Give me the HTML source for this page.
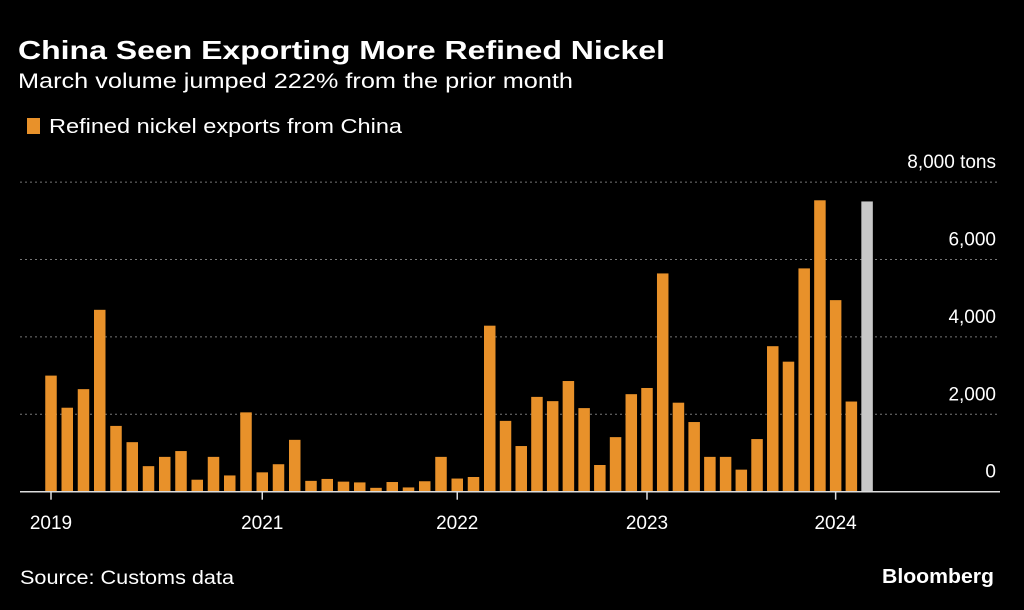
<!DOCTYPE html>
<html><head><meta charset="utf-8"><style>
html,body{margin:0;padding:0;background:#000;width:1024px;height:610px;overflow:hidden}
svg{display:block;font-family:"Liberation Sans",sans-serif}
</style></head><body>
<svg id="chart" width="1024" height="610" viewBox="0 0 1024 610">
<text x="18" y="59" fill="#fff" font-size="26" font-weight="bold" textLength="647" lengthAdjust="spacingAndGlyphs">China Seen Exporting More Refined Nickel</text>
<text x="18" y="88" fill="#fff" font-size="21" textLength="555" lengthAdjust="spacingAndGlyphs">March volume jumped 222% from the prior month</text>
<rect x="27" y="118" width="13" height="16" fill="#e8912a"/>
<text x="49" y="133" fill="#fff" font-size="20" textLength="353" lengthAdjust="spacingAndGlyphs">Refined nickel exports from China</text>
<g id="grid"></g>
<g id="bars"></g>
<g id="xaxis"></g>
<text x="20" y="584" fill="#fff" font-size="19" textLength="214" lengthAdjust="spacingAndGlyphs">Source: Customs data</text>
<text x="994" y="583" fill="#fff" font-size="20" font-weight="bold" text-anchor="end" textLength="112" lengthAdjust="spacingAndGlyphs">Bloomberg</text>
</svg>
<script>
const values = [3000,2170,2650,4700,1700,1280,660,900,1050,310,900,420,2050,500,710,1340,280,330,260,240,100,250,110,270,900,340,380,4290,1830,1180,2450,2340,2860,2160,690,1410,2520,2680,5640,2300,1800,900,900,570,1360,3760,3360,5770,7530,4950,2330];
const estimateValue = [7500];
const yTicks = [0,2000,4000,6000,8000];
const yTickLabels = ["0","2,000","4,000","6,000","8,000"];
const xTickPos = [0,13,25,37,49];
const xTickLabels = ["2019","2021","2022","2023","2024"];
const NS="http://www.w3.org/2000/svg";
const y0=491.7, pxPer=77.4/2000;
const yS=v=>y0-v*pxPer;
const xS=i=>i<=27?51+i*16.25:489.8+(i-27)*15.72;
const bw=11.5;
function mk(tag,attrs,parent){const e=document.createElementNS(NS,tag);for(const k in attrs)e.setAttribute(k,attrs[k]);parent.appendChild(e);return e;}
const grid=document.getElementById('grid'),bars=document.getElementById('bars'),xa=document.getElementById('xaxis');
yTicks.forEach((t,i)=>{
  if(t>0){const l=mk('line',{x1:20,x2:1000,y1:yS(t),y2:yS(t),stroke:'#777','stroke-width':1,'stroke-dasharray':'2,3'},grid);
  
  }
  const tx=mk('text',{x:996,y:yS(t)-14,fill:'#fff','font-size':19,'text-anchor':'end'},grid);
  tx.textContent=yTickLabels[i]+(t===8000?' tons':'');
  
  
});
values.forEach((v,i)=>{
  const r=mk('rect',{x:xS(i)-bw/2,y:yS(v),width:bw,height:y0-yS(v),fill:'#e8912a'},bars);
  
  
});
estimateValue.forEach((v,j)=>{
  const i=values.length+j;
  const r=mk('rect',{x:xS(i)-bw/2,y:yS(v),width:bw,height:y0-yS(v),fill:'#c8c8c8'},bars);
  
  
});
const ax=mk('line',{x1:20,x2:1000,y1:y0,y2:y0,stroke:'#ddd','stroke-width':1.5},xa);


xTickPos.forEach((p,i)=>{
  const x=xS(p);
  const t=mk('line',{x1:x,x2:x,y1:y0,y2:y0+8,stroke:'#ddd','stroke-width':1.5},xa);
  
  
  const l=mk('text',{x:x,y:529,fill:'#fff','font-size':19,'text-anchor':'middle'},xa);
  l.textContent=xTickLabels[i];
  
  
});
</script>
</body></html>
